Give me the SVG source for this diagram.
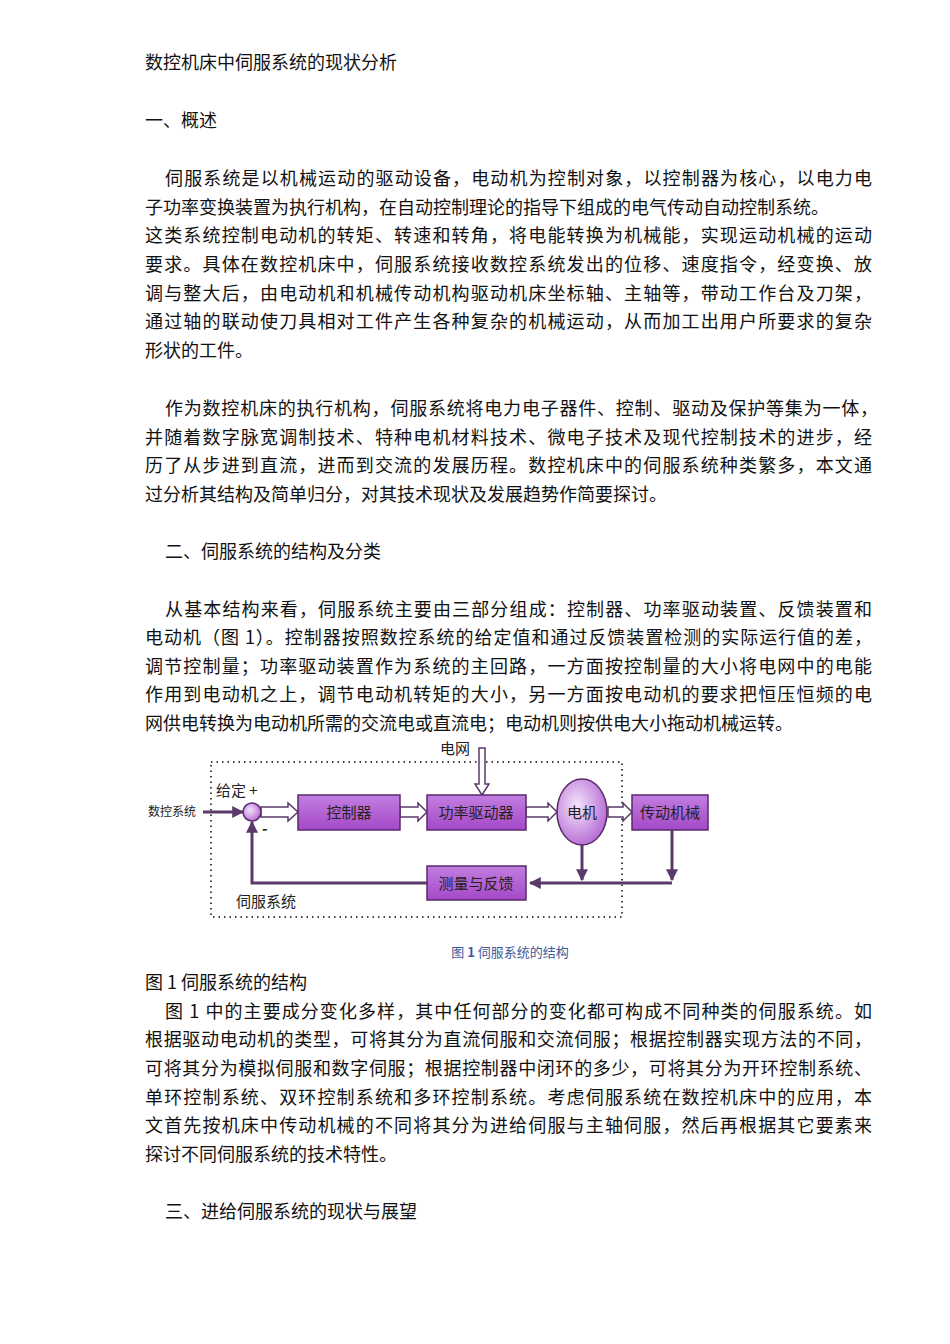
<svg xmlns="http://www.w3.org/2000/svg" width="950" height="1344" viewBox="0 0 950 1344">
<style>
.t{font-family:"Noto Sans CJK SC","Liberation Serif",serif;font-size:18px;fill:#111}
.d{font-family:"Noto Sans CJK SC",sans-serif;font-size:15px;fill:#222}
.b{fill:url(#g);stroke:#5a2a6a;stroke-width:1.5}
.ln{stroke:#5b3a6b;stroke-width:3;fill:none}
.ha{fill:#fff;stroke:#5b3a6b;stroke-width:1.5}
</style>
<defs>
<linearGradient id="g" x1="0" y1="0" x2="0" y2="1"><stop offset="0" stop-color="#c27ee0"/><stop offset="1" stop-color="#a448c8"/></linearGradient>
<radialGradient id="rg" cx="0.4" cy="0.4" r="0.7"><stop offset="0" stop-color="#f4e4fb"/><stop offset="1" stop-color="#b060d0"/></radialGradient>
<marker id="a" viewBox="0 0 10 10" refX="9" refY="5" markerWidth="4" markerHeight="4" orient="auto"><path d="M0,0L10,5L0,10z" fill="#5b3a6b"/></marker>
</defs>
<rect width="950" height="1344" fill="#fff"/>
<g id="text">
<text class="t" x="145" y="69">数控机床中伺服系统的现状分析</text>
<text class="t" x="145" y="127">一、概述</text>
<text class="t" x="165" y="185" textLength="707">伺服系统是以机械运动的驱动设备，电动机为控制对象，以控制器为核心，以电力电</text>
<text class="t" x="145" y="214">子功率变换装置为执行机构，在自动控制理论的指导下组成的电气传动自动控制系统。</text>
<text class="t" x="145" y="242" textLength="727">这类系统控制电动机的转矩、转速和转角，将电能转换为机械能，实现运动机械的运动</text>
<text class="t" x="145" y="271" textLength="727">要求。具体在数控机床中，伺服系统接收数控系统发出的位移、速度指令，经变换、放</text>
<text class="t" x="145" y="300" textLength="727">调与整大后，由电动机和机械传动机构驱动机床坐标轴、主轴等，带动工作台及刀架，</text>
<text class="t" x="145" y="328" textLength="727">通过轴的联动使刀具相对工件产生各种复杂的机械运动，从而加工出用户所要求的复杂</text>
<text class="t" x="145" y="357">形状的工件。</text>
<text class="t" x="165" y="415" textLength="713">作为数控机床的执行机构，伺服系统将电力电子器件、控制、驱动及保护等集为一体，</text>
<text class="t" x="145" y="444" textLength="727">并随着数字脉宽调制技术、特种电机材料技术、微电子技术及现代控制技术的进步，经</text>
<text class="t" x="145" y="472" textLength="727">历了从步进到直流，进而到交流的发展历程。数控机床中的伺服系统种类繁多，本文通</text>
<text class="t" x="145" y="501">过分析其结构及简单归分，对其技术现状及发展趋势作简要探讨。</text>
<text class="t" x="165" y="558">二、伺服系统的结构及分类</text>
<text class="t" x="165" y="616" textLength="707">从基本结构来看，伺服系统主要由三部分组成：控制器、功率驱动装置、反馈装置和</text>
<text class="t" x="145" y="644" textLength="727">电动机（图 1）。控制器按照数控系统的给定值和通过反馈装置检测的实际运行值的差，</text>
<text class="t" x="145" y="673" textLength="727">调节控制量；功率驱动装置作为系统的主回路，一方面按控制量的大小将电网中的电能</text>
<text class="t" x="145" y="701" textLength="727">作用到电动机之上，调节电动机转矩的大小，另一方面按电动机的要求把恒压恒频的电</text>
<text class="t" x="145" y="730">网供电转换为电动机所需的交流电或直流电；电动机则按供电大小拖动机械运转。</text>
<text x="510" y="957" text-anchor="middle" style="font-family:'Noto Sans CJK SC',sans-serif;font-size:13px;fill:#3a5a9a">图 <tspan font-weight="bold">1</tspan> 伺服系统的结构</text>
<text class="t" x="145" y="989">图 1 伺服系统的结构</text>
<text class="t" x="165" y="1018" textLength="707">图 1 中的主要成分变化多样，其中任何部分的变化都可构成不同种类的伺服系统。如</text>
<text class="t" x="145" y="1046" textLength="727">根据驱动电动机的类型，可将其分为直流伺服和交流伺服；根据控制器实现方法的不同，</text>
<text class="t" x="145" y="1075" textLength="727">可将其分为模拟伺服和数字伺服；根据控制器中闭环的多少，可将其分为开环控制系统、</text>
<text class="t" x="145" y="1104" textLength="727">单环控制系统、双环控制系统和多环控制系统。考虑伺服系统在数控机床中的应用，本</text>
<text class="t" x="145" y="1132" textLength="727">文首先按机床中传动机械的不同将其分为进给伺服与主轴伺服，然后再根据其它要素来</text>
<text class="t" x="145" y="1161">探讨不同伺服系统的技术特性。</text>
<text class="t" x="165" y="1218">三、进给伺服系统的现状与展望</text>
</g>
<rect x="211" y="762" width="411" height="155" fill="none" stroke="#444" stroke-width="2" stroke-dasharray="1.5,4"/>
<g id="connectors">
<line class="ln" x1="203" y1="812" x2="243" y2="812" marker-end="url(#a)"/>
<path class="ln" d="M526,883H252V822" marker-end="url(#a)"/>
<path class="ln" d="M582,845V880" marker-end="url(#a)"/>
<path class="ln" d="M672,830V880" marker-end="url(#a)"/>
<path class="ln" d="M672,883H530" marker-end="url(#a)"/>
<path class="ha" d="M261,807H288V803L298,812L288,821V817H261z"/>
<path class="ha" d="M400,807H418V803L427,812L418,821V817H400z"/>
<path class="ha" d="M526,807H548V803L557,812L548,821V817H526z"/>
<path class="ha" d="M608,807H623V803L632,812L623,821V817H608z"/>
<path class="ha" d="M479,748V784H475L482,795L489,784H485V748z"/>
</g>
<g id="sum"><circle cx="252" cy="812" r="9" fill="url(#rg)" stroke="#5a2a6a" stroke-width="1.5"/></g>
<g id="ctrl"><rect class="b" x="298" y="795" width="102" height="35"/><text class="d" x="349" y="818" text-anchor="middle">控制器</text></g>
<g id="drive"><rect class="b" x="427" y="795" width="99" height="35"/><text class="d" x="476" y="818" text-anchor="middle">功率驱动器</text></g>
<g id="motor"><ellipse cx="582" cy="812" rx="25" ry="33" fill="url(#rg)" stroke="#5a2a6a" stroke-width="1.5"/><text class="d" x="582" y="818" text-anchor="middle">电机</text></g>
<g id="mech"><rect class="b" x="632" y="795" width="76" height="35"/><text class="d" x="670" y="818" text-anchor="middle">传动机械</text></g>
<g id="fb"><rect class="b" x="427" y="866" width="99" height="34"/><text class="d" x="476" y="889" text-anchor="middle">测量与反馈</text></g>
<g id="labels">
<text class="d" x="148" y="816" style="font-size:12px">数控系统</text>
<text class="d" x="216" y="796">给定 +</text>
<text class="d" x="262" y="834" font-weight="bold">-</text>
<text class="d" x="440" y="754">电网</text>
<text class="d" x="236" y="907">伺服系统</text>
</g>
</svg>
